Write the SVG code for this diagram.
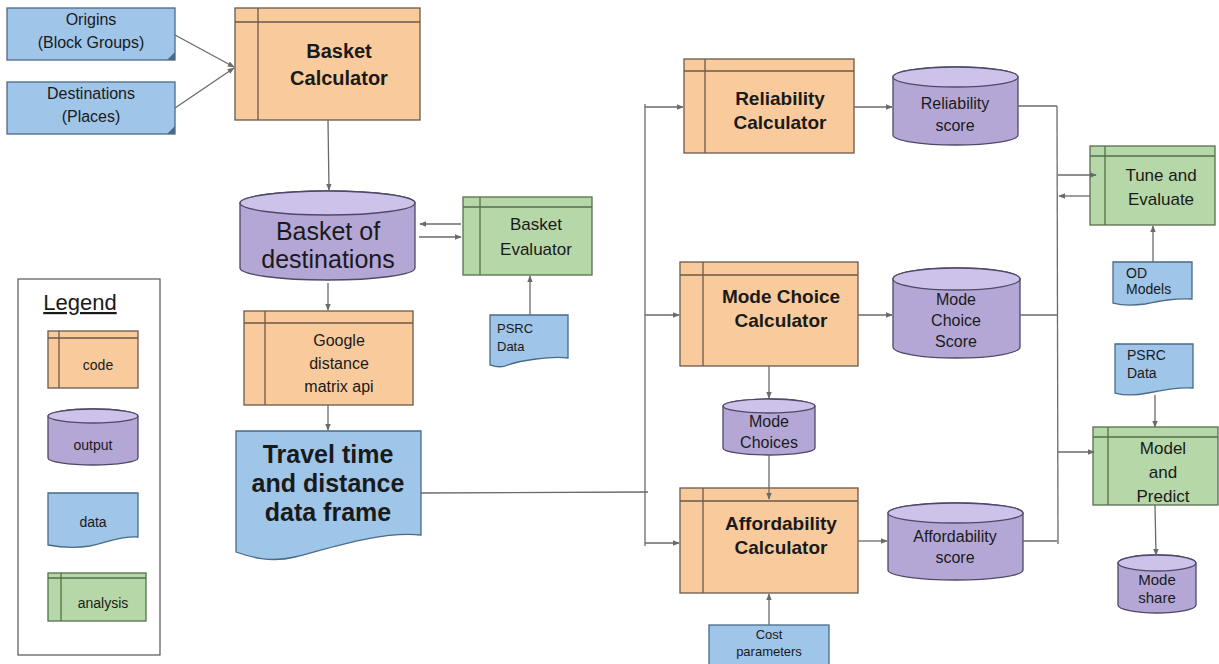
<svg xmlns="http://www.w3.org/2000/svg" width="1219" height="664" viewBox="0 0 1219 664">
<style>
text{font-family:"Liberation Sans",Arial,sans-serif;fill:#1a1a1a}
.c{text-anchor:middle}
.code{fill:#f9cb9c;stroke:#6b5a4a;stroke-width:1.3}
.ana{fill:#b6d7a8;stroke:#55704a;stroke-width:1.3}
.out{fill:#b4a7d6;stroke:#4f4866;stroke-width:1.3}
.outtop{fill:#cdc3ea;stroke:#4f4866;stroke-width:1.3}
.dat{fill:#9fc5e8;stroke:#4a6a88;stroke-width:1.3}
.ln{fill:none;stroke:#6a6a6a;stroke-width:1.3}
.ar{fill:none;stroke:#6a6a6a;stroke-width:1.3;marker-end:url(#ah)}
.b{font-weight:bold}
</style>
<defs>
<marker id="ah" viewBox="0 0 10 10" refX="9" refY="5" markerWidth="7" markerHeight="7" orient="auto" markerUnits="userSpaceOnUse">
<path d="M0,1 L10,5 L0,9 Z" fill="#6a6a6a"/>
</marker>
</defs>
<rect width="1219" height="664" fill="#ffffff"/>

<g id="origins">
<rect class="dat" x="7" y="8" width="168" height="52"/>
<path d="M175,52 L167,60 L175,60 Z" fill="#4a6a88"/>
<text class="c" x="91" y="25" font-size="16">Origins</text>
<text class="c" x="91" y="48" font-size="16">(Block Groups)</text>
</g>
<g id="destinations">
<rect class="dat" x="7" y="82" width="168" height="52"/>
<path d="M175,126 L167,134 L175,134 Z" fill="#4a6a88"/>
<text class="c" x="91" y="99" font-size="16">Destinations</text>
<text class="c" x="91" y="122" font-size="16">(Places)</text>
</g>

<g id="basket-calculator">
<rect class="code" x="235" y="8" width="185" height="112"/>
<path class="code" d="M235,22 H420 M258,8 V120" fill="none"/>
<text class="c b" x="339" y="58" font-size="20">Basket</text>
<text class="c b" x="339" y="85" font-size="20">Calculator</text>
</g>

<g id="basket-of-destinations">
<path class="out" d="M240,203 A87.5,12 0 0 1 415,203 V268 A87.5,12 0 0 1 240,268 Z"/>
<ellipse class="outtop" cx="327.5" cy="203" rx="87.5" ry="12"/>
<text class="c" x="328" y="240" font-size="25">Basket of</text>
<text class="c" x="328" y="268" font-size="25">destinations</text>
</g>

<g id="basket-evaluator">
<rect class="ana" x="463" y="197" width="129" height="78"/>
<path class="ana" d="M463,207 H592 M480,197 V275" fill="none"/>
<text class="c" x="536" y="230" font-size="17">Basket</text>
<text class="c" x="536" y="255" font-size="17">Evaluator</text>
</g>

<g id="psrc-data-left">
<path class="dat" d="M490,315 H568 V358 C552,356 520,360 505,366 C498,368 493,366 490,365 Z"/>
<text x="497" y="333" font-size="13">PSRC</text>
<text x="497" y="351" font-size="13">Data</text>
</g>

<g id="google-api">
<rect class="code" x="244" y="311" width="169" height="94"/>
<path class="code" d="M244,323 H413 M265,311 V405" fill="none"/>
<text class="c" x="339" y="346" font-size="16">Google</text>
<text class="c" x="339" y="369" font-size="16">distance</text>
<text class="c" x="339" y="392" font-size="16">matrix api</text>
</g>

<g id="travel-time">
<path class="dat" d="M236,431 H421 V535 C380,531 330,548 295,557 C270,563 250,557 236,552 Z"/>
<text class="c b" x="328" y="463" font-size="25">Travel time</text>
<text class="c b" x="328" y="492" font-size="25">and distance</text>
<text class="c b" x="328" y="521" font-size="25">data frame</text>
</g>

<g id="legend">
<rect x="18" y="279" width="142" height="376" fill="#ffffff" stroke="#555" stroke-width="1.2"/>
<text class="c" x="80" y="310" font-size="22" text-decoration="underline">Legend</text>
<rect class="code" x="48" y="331" width="90" height="57"/>
<path class="code" d="M48,338 H138 M59,331 V388" fill="none"/>
<text class="c" x="98" y="370" font-size="14">code</text>
<path class="out" d="M48,416 A45,7 0 0 1 138,416 V458 A45,7 0 0 1 48,458 Z"/>
<ellipse class="outtop" cx="93" cy="416" rx="45" ry="7"/>
<text class="c" x="93" y="450" font-size="14">output</text>
<path class="dat" d="M48,493 H138 V537 C120,536 105,543 90,546 C72,549 58,547 48,545 Z"/>
<text class="c" x="93" y="527" font-size="14">data</text>
<rect class="ana" x="48" y="573" width="98" height="48"/>
<path class="ana" d="M48,578 H146 M61,573 V621" fill="none"/>
<text class="c" x="103" y="608" font-size="14">analysis</text>
</g>

<g id="reliability-calculator">
<rect class="code" x="684" y="59" width="170" height="94"/>
<path class="code" d="M684,71 H854 M705,59 V153" fill="none"/>
<text class="c b" x="780" y="105" font-size="19">Reliability</text>
<text class="c b" x="780" y="129" font-size="19">Calculator</text>
</g>
<g id="reliability-score">
<path class="out" d="M893,77 A62.5,10 0 0 1 1018,77 V135 A62.5,10 0 0 1 893,135 Z"/>
<ellipse class="outtop" cx="955.5" cy="77" rx="62.5" ry="10"/>
<text class="c" x="955" y="109" font-size="16">Reliability</text>
<text class="c" x="955" y="131" font-size="16">score</text>
</g>

<g id="mode-choice-calculator">
<rect class="code" x="680" y="262" width="178" height="104"/>
<path class="code" d="M680,275 H858 M703,262 V366" fill="none"/>
<text class="c b" x="781" y="303" font-size="19">Mode Choice</text>
<text class="c b" x="781" y="327" font-size="19">Calculator</text>
</g>
<g id="mode-choice-score">
<path class="out" d="M893,279 A63.5,11 0 0 1 1020,279 V347 A63.5,11 0 0 1 893,347 Z"/>
<ellipse class="outtop" cx="956.5" cy="279" rx="63.5" ry="11"/>
<text class="c" x="956" y="305" font-size="16">Mode</text>
<text class="c" x="956" y="326" font-size="16">Choice</text>
<text class="c" x="956" y="347" font-size="16">Score</text>
</g>

<g id="mode-choices">
<path class="out" d="M723,406 A46,7 0 0 1 815,406 V448 A46,7 0 0 1 723,448 Z"/>
<ellipse class="outtop" cx="769" cy="406" rx="46" ry="7"/>
<text class="c" x="769" y="427" font-size="16">Mode</text>
<text class="c" x="769" y="448" font-size="16">Choices</text>
</g>

<g id="affordability-calculator">
<rect class="code" x="680" y="488" width="178" height="105"/>
<path class="code" d="M680,501 H858 M703,488 V593" fill="none"/>
<text class="c b" x="781" y="530" font-size="19">Affordability</text>
<text class="c b" x="781" y="554" font-size="19">Calculator</text>
</g>
<g id="affordability-score">
<path class="out" d="M888,513 A67.5,10 0 0 1 1023,513 V570 A67.5,10 0 0 1 888,570 Z"/>
<ellipse class="outtop" cx="955.5" cy="513" rx="67.5" ry="10"/>
<text class="c" x="955" y="542" font-size="16">Affordability</text>
<text class="c" x="955" y="563" font-size="16">score</text>
</g>

<g id="cost-parameters">
<rect class="dat" x="709" y="625" width="120" height="40"/>
<text class="c" x="769" y="639" font-size="13">Cost</text>
<text class="c" x="769" y="656" font-size="13">parameters</text>
</g>

<g id="tune-evaluate">
<rect class="ana" x="1090" y="146" width="125" height="79"/>
<path class="ana" d="M1090,156 H1215 M1105,146 V225" fill="none"/>
<text class="c" x="1161" y="181" font-size="17">Tune and</text>
<text class="c" x="1161" y="205" font-size="17">Evaluate</text>
</g>

<g id="od-models">
<path class="dat" d="M1113,262 H1192 V299 C1175,298 1160,301 1145,304 C1130,306 1120,305 1113,303 Z"/>
<text x="1126" y="278" font-size="14">OD</text>
<text x="1126" y="294" font-size="14">Models</text>
</g>

<g id="psrc-data-right">
<path class="dat" d="M1115,344 H1193 V388 C1178,387 1162,390 1148,393 C1133,396 1122,395 1115,393 Z"/>
<text x="1127" y="360" font-size="14">PSRC</text>
<text x="1127" y="378" font-size="14">Data</text>
</g>

<g id="model-predict">
<rect class="ana" x="1093" y="427" width="125" height="78"/>
<path class="ana" d="M1093,437 H1218 M1108,427 V505" fill="none"/>
<text class="c" x="1163" y="454" font-size="17">Model</text>
<text class="c" x="1163" y="478" font-size="17">and</text>
<text class="c" x="1163" y="502" font-size="17">Predict</text>
</g>

<g id="mode-share">
<path class="out" d="M1118,563 A39,8 0 0 1 1196,563 V605 A39,8 0 0 1 1118,605 Z"/>
<ellipse class="outtop" cx="1157" cy="563" rx="39" ry="8"/>
<text class="c" x="1157" y="585" font-size="15">Mode</text>
<text class="c" x="1157" y="603" font-size="15">share</text>
</g>

<g id="connectors">
<path class="ar" d="M175,35 L234,67"/>
<path class="ar" d="M175,108 L234,68"/>
<path class="ar" d="M328,120 L329,190"/>
<path class="ar" d="M461,224 L420,224"/>
<path class="ar" d="M419,237 L461,237"/>
<path class="ar" d="M530,315 L530,276"/>
<path class="ar" d="M328,283 L328,310"/>
<path class="ar" d="M328,405 L328,430"/>
<path class="ln" d="M421,493 L648,492"/>
<path class="ln" d="M645,104 L645,546"/>
<path class="ar" d="M645,107 L683,107"/>
<path class="ar" d="M645,315 L679,315"/>
<path class="ar" d="M645,543 L679,543"/>
<path class="ar" d="M854,107 L892,107"/>
<path class="ar" d="M858,315 L892,315"/>
<path class="ar" d="M858,541 L887,541"/>
<path class="ar" d="M769,366 L769,398"/>
<path class="ar" d="M769,455 L769,499"/>
<path class="ar" d="M769,625 L769,594"/>
<path class="ln" d="M1018,106 L1057,106"/>
<path class="ln" d="M1020,315 L1057,315"/>
<path class="ln" d="M1023,541 L1057,541"/>
<path class="ln" d="M1057,106 L1058,544"/>
<path class="ar" d="M1058,175 L1096,175"/>
<path class="ar" d="M1090,196 L1059,196"/>
<path class="ar" d="M1153,262 L1153,226"/>
<path class="ar" d="M1155,395 L1155,427"/>
<path class="ar" d="M1058,452 L1094,452"/>
<path class="ar" d="M1155,505 L1156,555"/>
</g>
</svg>
